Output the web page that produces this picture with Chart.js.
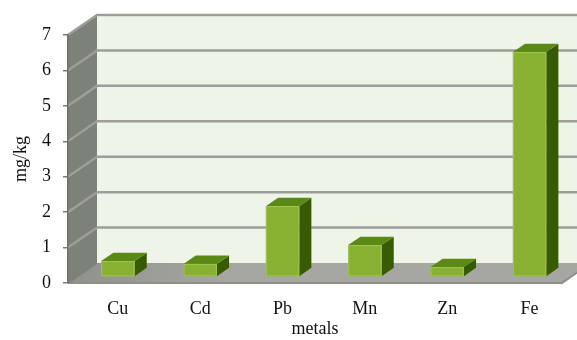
<!DOCTYPE html>
<html>
<head>
<meta charset="utf-8">
<script src="https://cdn.jsdelivr.net/npm/chart.js@4.4.1/dist/chart.umd.min.js"></script>
<style>
  body { margin: 0; background: #fff; }
  #wrap { width: 577px; height: 340px; }
</style>
</head>
<body>
<div id="wrap"><canvas id="chart" width="577" height="340"></canvas></div>
<script>
// values
const metals = ['Cu', 'Cd', 'Pb', 'Mn', 'Zn', 'Fe'];
const concentration = [0.45, 0.37, 2.0, 0.9, 0.28, 6.35];
const yMin = 0, yMax = 7, yStep = 1;

// oblique depth of the box (pixels) and where the bars sit inside it
const DEPTH_X = 29, DEPTH_Y = 20;
const BAR_Z0 = 0.3, BAR_Z1 = 0.72;

function poly(ctx, pts, fill) {
	ctx.beginPath();
	ctx.moveTo(pts[0][0], pts[0][1]);
	for (let i = 1; i < pts.length; i++) ctx.lineTo(pts[i][0], pts[i][1]);
	ctx.closePath();
	ctx.fillStyle = fill;
	ctx.fill();
}

const box3d = {
	id: 'box3d',
	beforeDraw(chart) {
		const ctx = chart.ctx;
		const a = chart.chartArea;
		const y = chart.scales.y;
		const W = chart.width + 40;
		ctx.save();
		// back wall
		poly(ctx, [[a.left + DEPTH_X, a.top - DEPTH_Y], [W, a.top - DEPTH_Y], [W, a.bottom - DEPTH_Y], [a.left + DEPTH_X, a.bottom - DEPTH_Y]], '#eef5e8');
		// left side wall
		poly(ctx, [[a.left, a.top], [a.left + DEPTH_X, a.top - DEPTH_Y], [a.left + DEPTH_X, a.bottom - DEPTH_Y], [a.left, a.bottom]], '#7c8179');
		// floor, a bit darker towards the left
		const g = ctx.createLinearGradient(a.left, 0, a.left + 160, 0);
		g.addColorStop(0, '#8f918c');
		g.addColorStop(1, '#a6a7a3');
		poly(ctx, [[a.left, a.bottom], [a.right, a.bottom], [a.right + DEPTH_X, a.bottom - DEPTH_Y], [a.left + DEPTH_X, a.bottom - DEPTH_Y]], g);
		// grid lines on side and back walls
		ctx.lineWidth = 2.5;
		ctx.strokeStyle = '#9d9e99';
		for (let v = yMin + yStep; v <= yMax; v += yStep) {
			const py = y.getPixelForValue(v);
			ctx.beginPath();
			ctx.moveTo(a.left, py);
			ctx.lineTo(a.left + DEPTH_X, py - DEPTH_Y);
			ctx.lineTo(W, py - DEPTH_Y);
			ctx.stroke();
		}
		// floor edges
		ctx.strokeStyle = '#8e8f8b';
		ctx.lineWidth = 2;
		ctx.beginPath();
		ctx.moveTo(a.left, a.bottom);
		ctx.lineTo(a.right, a.bottom);
		ctx.lineTo(a.right + DEPTH_X, a.bottom - DEPTH_Y);
		ctx.stroke();
		ctx.strokeStyle = '#80827d';
		ctx.beginPath();
		ctx.moveTo(a.left, a.bottom);
		ctx.lineTo(a.left + DEPTH_X, a.bottom - DEPTH_Y);
		ctx.stroke();
		ctx.restore();
	},
	afterDatasetsDraw(chart) {
		const ctx = chart.ctx;
		const meta = chart.getDatasetMeta(0);
		const fx = BAR_Z0 * DEPTH_X, fy = BAR_Z0 * DEPTH_Y;
		const dx = (BAR_Z1 - BAR_Z0) * DEPTH_X, dy = (BAR_Z1 - BAR_Z0) * DEPTH_Y;
		ctx.save();
		meta.data.forEach(function(bar) {
			const p = bar.getProps(['x', 'y', 'base', 'width'], true);
			const L = p.x - p.width / 2 + fx, R = p.x + p.width / 2 + fx;
			const T = p.y - fy, B = p.base - fy;
			// side
			poly(ctx, [[R, T], [R + dx, T - dy], [R + dx, B - dy], [R, B]], '#375b04');
			// top
			poly(ctx, [[L, T], [R, T], [R + dx, T - dy], [L + dx, T - dy]], '#5a8916');
			// front
			poly(ctx, [[L, T], [R, T], [R, B], [L, B]], '#88b132');
			ctx.strokeStyle = '#a0c550';
			ctx.lineWidth = 1;
			ctx.strokeRect(L + 0.5, T + 0.5, R - L - 1, B - T - 1);
		});
		ctx.restore();
	}
};

const serif = '"Liberation Serif", "Times New Roman", serif';

new Chart(document.getElementById('chart'),
{
	type: 'bar',
	data:
	{
		labels: metals,
		datasets:
		[{
			label: 'mg/kg',
			data: concentration,
			backgroundColor: 'rgba(0,0,0,0)',
			borderWidth: 0,
			barPercentage: 0.405,
			categoryPercentage: 1
		}]
	},
	plugins: [box3d],
	options:
	{
		responsive: false,
		devicePixelRatio: 1,
		animation: false,
		layout: { padding: { left: 0, right: 15, top: 35, bottom: 0 } },
		plugins:
		{
			legend: { display: false },
			tooltip: { enabled: false }
		},
		scales:
		{
			x:
			{
				afterFit: function(s) { s.height = 57; },
				grid: { display: false, drawTicks: false },
				border: { display: false },
				ticks: { color: '#111', font: { family: serif, size: 18 }, padding: 15, labelOffset: 8.7, maxRotation: 0, autoSkip: false },
				title: { display: true, text: 'metals', color: '#111', font: { family: serif, size: 18 }, padding: { top: 0, bottom: 0 } }
			},
			y:
			{
				min: yMin,
				max: yMax,
				afterFit: function(s) { s.width = 68; },
				grid: { drawOnChartArea: false, drawTicks: true, tickLength: 5, color: '#77797a', lineWidth: 1.5 },
				border: { display: true, color: '#6d706b', width: 1.5 },
				ticks: { stepSize: yStep, color: '#111', font: { family: serif, size: 18 }, padding: 12 },
				title: { display: true, text: 'mg/kg', color: '#111', font: { family: serif, size: 18 }, padding: { top: 10, bottom: 0 } }
			}
		}
	}
});
</script>
</body>
</html>
